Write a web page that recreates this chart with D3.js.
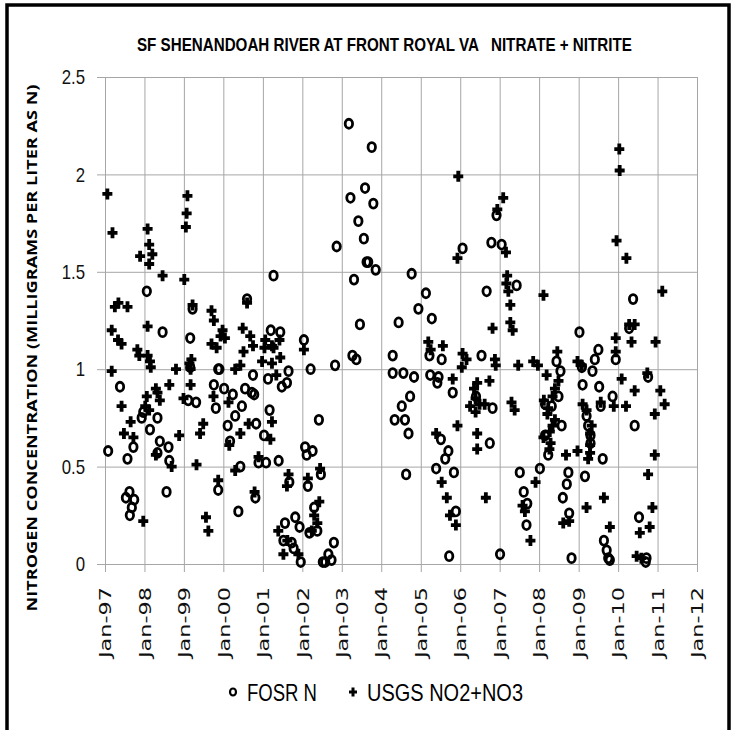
<!DOCTYPE html>
<html>
<head>
<meta charset="utf-8">
<script src="https://cdn.jsdelivr.net/npm/d3@7"></script>
<style>
  body { margin: 0; background: #fff; }
  .grid line { stroke: #a6a6a6; stroke-width: 1; }
  .grid .domain { display: none; }
  .axis path, .axis line { stroke: #a6a6a6; }
</style>
</head>
<body>
<div class="chart"></div>
<script>
// SF Shenandoah River at Front Royal VA - nitrate + nitrite
var chartTitle = "SF SHENANDOAH RIVER AT FRONT ROYAL VA   NITRATE + NITRITE";
var yTitle = "NITROGEN CONCENTRATION (MILLIGRAMS PER LITER AS N)";
var seriesNames = ["FOSR N", "USGS NO2+NO3"];
var yTicks = [0, 0.5, 1, 1.5, 2, 2.5];
var xTickYears = [1997, 1998, 1999, 2000, 2001, 2002, 2003, 2004, 2005, 2006, 2007, 2008, 2009, 2010, 2011, 2012];

// [decimal year, mg/L]
var fosrN = [
  [1997.08,0.58],[1997.38,0.91],[1997.62,0.37],[1997.53,0.34],[1997.74,0.33],[1997.68,0.29],[1997.63,0.25],
  [1997.57,0.54],[1997.72,0.60],[1997.97,0.78],[1997.93,0.75],[1998.06,1.40],[1998.14,0.69],[1998.46,1.19],
  [1998.33,0.75],[1998.39,0.63],[1998.33,0.57],[1998.61,0.60],[1998.63,0.53],[1998.56,0.37],[1999.16,1.01],
  [1999.16,1.16],[1999.22,1.31],[1999.11,0.84],[1999.31,0.83],[1999.76,0.92],[1999.81,0.80],[1999.87,1.00],
  [1999.90,1.00],[2000.02,0.90],[2000.24,0.87],[2000.11,0.71],[2000.30,0.76],[2000.17,0.63],[1999.87,0.38],
  [2000.38,0.27],
  [2003.18,2.26],[2003.76,2.14],[2003.59,1.93],[2003.22,1.88],[2003.80,1.85],[2003.42,1.76],[2003.56,1.67],
  [2002.87,1.63],[2003.63,1.55],[2003.67,1.55],[2003.86,1.51],[2003.31,1.46],[2001.27,1.48],[2000.60,1.36],
  [2003.46,1.23],[2003.27,1.07],[2003.37,1.05],[2002.83,1.02],[2002.21,1.00],[2002.04,1.15],[2002.42,0.74],
  [2001.20,1.20],[2001.44,1.19],[2001.65,0.99],[2001.13,0.95],[2001.61,0.93],[2001.48,0.91],[2000.75,0.97],
  [2000.55,0.90],[2000.72,0.88],[2000.78,0.87],[2000.47,0.81],[2001.17,0.79],[2000.83,0.72],[2001.03,0.66],
  [2000.43,0.50],[2000.89,0.52],[2001.08,0.52],[2001.40,0.53],[2002.07,0.60],[2002.11,0.56],[2002.26,0.58],
  [2002.47,0.46],[2001.67,0.42],[2002.14,0.40],[2000.81,0.34],[2001.56,0.21],[2001.82,0.24],[2001.93,0.19],
  [2001.52,0.12],[2001.73,0.11],[2001.78,0.08],[2001.96,0.01],[2002.30,0.29],[2002.38,0.17],[2002.18,0.16],
  [2002.80,0.11],[2002.66,0.05],[2002.74,0.02],[2002.58,0.01],[2002.52,0.01],
  [2004.77,1.49],[2005.13,1.39],[2004.94,1.31],[2005.28,1.26],[2004.44,1.24],[2004.29,1.07],[2004.29,0.98],
  [2004.56,0.98],[2004.83,0.96],[2004.73,0.86],[2004.52,0.81],[2004.34,0.74],[2004.60,0.74],[2004.69,0.67],
  [2004.63,0.46],[2005.22,1.07],[2005.53,1.05],[2005.24,0.97],[2005.45,0.96],[2005.42,0.93],[2005.81,0.88],
  [2005.51,0.64],[2005.70,0.58],[2005.62,0.54],[2005.39,0.49],[2005.84,0.47],[2005.89,0.27],[2005.72,0.04],
  [2006.06,1.62],[2006.79,1.65],[2007.05,1.64],[2006.92,1.79],[2006.67,1.40],[2007.43,1.43],[2006.54,1.07],
  [2006.40,0.86],[2006.82,0.80],[2006.75,0.62],[2007.01,0.05],[2007.51,0.47],[2007.61,0.37],[2007.70,0.31],
  [2007.68,0.20],
  [2010.38,1.36],[2010.28,1.21],[2009.02,1.19],[2009.50,1.10],[2009.41,1.05],[2009.94,1.05],[2008.44,1.04],
  [2008.54,0.99],[2009.08,1.01],[2009.35,0.99],[2009.52,0.91],[2009.10,0.92],[2008.49,0.86],[2008.32,0.81],
  [2008.15,0.82],[2009.56,0.81],[2009.86,0.86],[2010.76,0.96],[2010.42,0.71],[2008.57,0.71],[2009.20,0.76],
  [2009.24,0.71],[2009.30,0.66],[2009.30,0.62],[2008.15,0.66],[2008.23,0.56],[2008.02,0.49],[2009.61,0.54],
  [2008.74,0.47],[2008.70,0.41],[2008.60,0.34],[2009.16,0.45],[2008.76,0.26],[2008.82,0.03],[2009.64,0.12],
  [2009.71,0.07],[2009.75,0.03],[2009.79,0.02],[2010.53,0.24],[2010.70,0.01],[2010.72,0.03]
];

var usgsN = [
  [1997.06,1.90],[1997.19,1.70],[1998.08,1.72],[1998.12,1.64],[1998.20,1.59],[1997.89,1.58],[1998.12,1.54],
  [1998.46,1.48],[1999.09,1.89],[1999.07,1.80],[1999.05,1.73],[1999.01,1.46],[1997.25,1.32],[1997.34,1.34],
  [1997.57,1.32],[1997.17,1.20],[1998.08,1.22],[1997.33,1.15],[1997.42,1.13],[1997.82,1.10],[1997.87,1.07],
  [1998.08,1.07],[1998.14,1.04],[1998.16,1.01],[1997.17,0.99],[1998.80,1.00],[1998.63,0.92],[1999.17,0.92],
  [1999.19,1.05],[1999.14,1.03],[1999.17,1.00],[1999.22,1.33],[1999.70,1.30],[1999.76,1.25],[1999.98,1.20],
  [2000.04,1.16],[1999.93,1.17],[1999.70,1.13],[1999.83,1.11],[1998.29,0.90],[1998.33,0.88],[1998.39,0.84],
  [1998.06,0.86],[1998.02,0.81],[1998.12,0.79],[1997.42,0.81],[1997.65,0.73],[1997.48,0.67],[1997.72,0.65],
  [1998.88,0.66],[1999.49,0.72],[1999.41,0.67],[1998.29,0.56],[1998.69,0.50],[1999.32,0.51],[1997.97,0.22],
  [1999.56,0.24],[1999.62,0.17],[1999.87,0.43],[1998.99,0.85],[1999.75,0.86],[2000.13,0.83],[2000.30,0.48],
  [2000.30,1.00],[2000.15,0.61],
  [2000.60,1.34],[2000.49,1.21],[2000.68,1.17],[2000.75,1.12],[2000.51,1.09],[2001.06,1.15],[2001.23,1.12],
  [2001.42,1.15],[2001.27,1.11],[2001.04,1.11],[2000.98,1.04],[2001.23,1.03],[2001.44,1.06],[2001.34,0.97],
  [2000.43,1.02],[2001.23,0.73],[2000.64,0.72],[2000.43,0.67],[2001.19,0.64],[2000.89,0.55],[2001.65,0.46],
  [2001.61,0.40],[2002.14,0.44],[2002.45,0.49],[2000.79,0.37],[2001.39,0.17],[2001.62,0.12],[2001.52,0.05],
  [2001.90,0.05],[2002.43,0.32],[2002.30,0.25],[2002.38,0.21],[2002.24,0.17],[2002.04,1.10],
  [2005.95,1.99],[2007.09,1.88],[2006.94,1.82],[2005.93,1.57],[2007.16,1.60],[2007.19,1.48],[2007.17,1.44],
  [2007.22,1.40],[2007.27,1.33],[2007.27,1.24],[2007.33,1.20],[2006.82,1.21],[2005.19,1.14],[2005.25,1.10],
  [2005.56,1.12],[2006.06,1.08],[2006.16,1.05],[2006.04,1.01],[2006.88,1.05],[2006.90,1.02],[2007.47,1.02],
  [2007.85,1.04],[2007.97,1.02],[2005.81,0.95],[2006.74,0.94],[2006.43,0.93],[2006.35,0.90],[2006.39,0.85],
  [2006.49,0.82],[2006.39,0.78],[2006.62,0.82],[2006.25,0.81],[2007.30,0.83],[2007.38,0.79],[2005.39,0.67],
  [2005.93,0.71],[2006.43,0.67],[2006.43,0.59],[2005.53,0.42],[2005.66,0.34],[2005.74,0.25],[2005.89,0.20],
  [2006.65,0.34],[2007.58,0.30],[2007.64,0.27],[2007.91,0.42],[2007.78,0.12],
  [2010.03,2.13],[2010.04,2.02],[2009.96,1.66],[2010.21,1.57],[2008.11,1.38],[2011.12,1.40],[2010.28,1.23],
  [2010.42,1.23],[2010.34,1.14],[2009.94,1.16],[2010.95,1.14],[2009.94,1.09],[2008.46,1.09],[2008.97,1.04],
  [2009.08,1.02],[2008.19,0.97],[2008.49,0.94],[2008.40,0.90],[2008.34,0.86],[2008.12,0.84],[2008.23,0.80],
  [2008.21,0.77],[2008.40,0.74],[2008.34,0.71],[2008.27,0.68],[2008.11,0.65],[2008.29,0.62],[2008.26,0.59],
  [2010.09,0.95],[2010.42,0.89],[2010.20,0.81],[2009.89,0.81],[2011.07,0.89],[2011.18,0.82],[2010.93,0.77],
  [2010.93,0.56],[2010.76,0.46],[2010.87,0.29],[2010.80,0.19],[2010.55,0.16],[2009.10,0.82],[2009.20,0.79],
  [2009.33,0.71],[2009.29,0.67],[2009.29,0.61],[2009.29,0.57],[2009.24,0.54],[2008.68,0.56],[2008.97,0.58],
  [2009.20,0.29],[2009.64,0.34],[2008.61,0.21],[2008.76,0.22],[2009.79,0.19],[2010.47,0.04],[2010.59,0.03],
  [2010.74,0.98],[2009.56,0.83]
];

var svgWidth = 734;
var svgHeight = 730;
var margin = { top: 77, right: 37, bottom: 166, left: 105 };
var width = svgWidth - margin.left - margin.right;
var height = svgHeight - margin.top - margin.bottom;

// decimal year -> Date
function toDate(y) {
    var yr = Math.floor(y);
    var start = new Date(yr, 0, 1), end = new Date(yr + 1, 0, 1);
    return new Date(+start + (y - yr) * (end - start));
}

// squeeze a text horizontally to a given width (narrow font look)
function fitWidth(sel, targetW) {
    var w = sel.node().getComputedTextLength();
    sel.attr("transform", (sel.attr("transform") || "") + " scale(" + (targetW / w) + ",1)");
}

var svg = d3.select(".chart")
    .append("svg")
    .attr("width", svgWidth)
    .attr("height", svgHeight);

// frame (open at the bottom, as in the screenshot)
svg.append("path")
    .attr("d", "M7,730V5H729V730")
    .attr("fill", "none")
    .attr("stroke", "#000")
    .attr("stroke-width", 3.5);

var chart = svg.append("g")
    .attr("transform", "translate(" + margin.left + "," + margin.top + ")");

var xScale = d3.scaleTime()
    .domain([new Date(1997, 0, 1), new Date(2012, 0, 1)])
    .range([0, width]);
var yScale = d3.scaleLinear()
    .domain([0, 2.5])
    .range([height, 0]);

var xTickDates = xTickYears.map(function(y) { return new Date(y, 0, 1); });

// gridlines
chart.append("g")
    .attr("class", "grid")
    .call(d3.axisLeft(yScale).tickValues(yTicks).tickSize(-width).tickFormat(""));
chart.append("g")
    .attr("class", "grid")
    .attr("transform", "translate(0," + height + ")")
    .call(d3.axisBottom(xScale).tickValues(xTickDates).tickSize(-height).tickFormat(""));

// axes
var bottomAxis = d3.axisBottom(xScale)
    .tickValues(xTickDates)
    .tickSize(8)
    .tickSizeOuter(0)
    .tickFormat(d3.timeFormat("Jan-%y"));
var leftAxis = d3.axisLeft(yScale)
    .tickValues(yTicks)
    .tickSize(8)
    .tickSizeOuter(0)
    .tickPadding(12)
    .tickFormat(d3.format(""));

var xAxisG = chart.append("g")
    .attr("class", "axis")
    .attr("transform", "translate(0," + height + ")")
    .call(bottomAxis);
xAxisG.selectAll("text")
    .attr("transform", "rotate(-90)")
    .attr("text-anchor", "end")
    .attr("x", -23)
    .attr("y", 0)
    .attr("dy", "0.36em")
    .attr("fill", "#111")
    .style("font-family", "'DejaVu Sans', sans-serif")
    .style("font-size", "16px")
    .attr("textLength", 71)
    .attr("lengthAdjust", "spacingAndGlyphs");

var yAxisG = chart.append("g")
    .attr("class", "axis")
    .call(leftAxis);
yAxisG.selectAll("text")
    .attr("fill", "#111")
    .style("font-family", "'Liberation Sans Narrow', 'Liberation Sans', sans-serif")
    .style("font-size", "21px")
    .each(function() {
        // condensed look of the original tick labels
        var w = this.getComputedTextLength();
        d3.select(this).attr("textLength", w * 0.8).attr("lengthAdjust", "spacingAndGlyphs");
    });

// FOSR N - open circles
chart.append("g").selectAll("ellipse")
    .data(fosrN)
    .enter()
    .append("ellipse")
    .attr("cx", function(d) { return xScale(toDate(d[0])); })
    .attr("cy", function(d) { return yScale(d[1]); })
    .attr("rx", 3.7)
    .attr("ry", 4.5)
    .attr("fill", "none")
    .attr("stroke", "#000")
    .attr("stroke-width", 2.8);

// USGS - plus signs
var plusPath = "M-5,0H5M0,-5.5V5.5";
chart.append("g").selectAll("path")
    .data(usgsN)
    .enter()
    .append("path")
    .attr("d", plusPath)
    .attr("transform", function(d) {
        return "translate(" + xScale(toDate(d[0])) + "," + yScale(d[1]) + ")";
    })
    .attr("fill", "none")
    .attr("stroke", "#000")
    .attr("stroke-width", 3.8);

// title
var title = svg.append("text")
    .attr("transform", "translate(137,51)")
    .attr("xml:space", "preserve")
    .style("white-space", "pre")
    .style("font-family", "'Liberation Sans Narrow', 'Liberation Sans', sans-serif")
    .style("font-weight", "bold")
    .style("font-size", "19px")
    .text(chartTitle);
fitWidth(title, 495);

// y axis title
svg.append("text")
    .attr("transform", "translate(37," + 348 + ") rotate(-90)")
    .attr("text-anchor", "middle")
    .style("font-family", "'Open Sans', sans-serif")
    .style("font-weight", "bold")
    .style("font-size", "14px")
    .attr("textLength", 527)
    .attr("lengthAdjust", "spacingAndGlyphs")
    .text(yTitle);

// legend
var legend = svg.append("g").attr("transform", "translate(0,692)");
legend.append("ellipse")
    .attr("cx", 233).attr("cy", 0)
    .attr("rx", 3).attr("ry", 3.5)
    .attr("fill", "none").attr("stroke", "#000").attr("stroke-width", 2.2);
legend.append("path")
    .attr("d", "M-4,0H4M0,-4.5V4.5")
    .attr("transform", "translate(353,0)")
    .attr("stroke", "#000").attr("stroke-width", 3);
legend.selectAll("text")
    .data([{ x: 247, w: 70, t: seriesNames[0] }, { x: 367, w: 156, t: seriesNames[1] }])
    .enter()
    .append("text")
    .attr("x", function(d) { return d.x; })
    .attr("y", 9)
    .style("font-family", "'Liberation Sans Narrow', 'Liberation Sans', sans-serif")
    .style("font-size", "24px")
    .attr("textLength", function(d) { return d.w; })
    .attr("lengthAdjust", "spacingAndGlyphs")
    .text(function(d) { return d.t; });
</script>
</body>
</html>
